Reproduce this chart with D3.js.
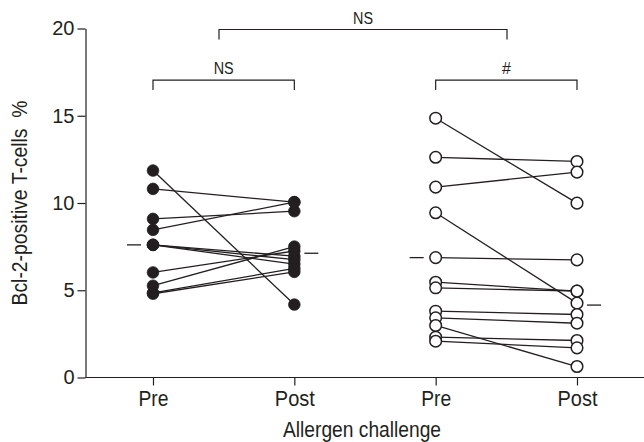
<!DOCTYPE html>
<html><head><meta charset="utf-8">
<script src="https://cdn.jsdelivr.net/npm/d3@7"></script>
<style>
html,body{margin:0;padding:0;background:#fff;}
svg{display:block;font-family:"Liberation Sans",Arial,Helvetica,sans-serif;}
</style></head>
<body><svg id="c" width="644" height="442"></svg>
<script>
// ---- data ----
const categories = ["Pre A", "Post A", "Pre B", "Post B"];
const categoryLabels = ["Pre", "Post", "Pre", "Post"];
const yTicks = [0, 5, 10, 15, 20];
// group 1 (filled circles): paired pre/post values
const group1Pre  = [11.86, 10.81, 9.09, 8.46, 7.60, 7.60, 7.60, 6.02, 5.26, 4.85, 4.80];
const group1Post = [4.18, 10.05, 9.53, 10.05, 6.95, 6.75, 6.50, 7.25, 7.50, 6.25, 6.05];
// group 2 (open circles)
const group2Pre  = [14.86, 12.62, 10.91, 9.44, 6.87, 5.46, 5.14, 3.80, 3.42, 2.98, 2.31, 2.08];
const group2Post = [9.99, 12.38, 11.77, 4.26, 6.74, 4.95, 4.95, 3.61, 3.11, 0.63, 2.12, 1.70];
// group central values (dashes)
const group1Center = [7.60, 7.12];
const group2Center = [6.87, 4.15];
// significance annotations
const brackets = [
  {from: "Pre A", to: "Post B", level: 20, label: "NS"},
  {from: "Pre A", to: "Post A", level: 17.1, label: "NS"},
  {from: "Pre B", to: "Post B", level: 17.1, label: "#"}
];
const yTitle = "Bcl-2-positive T-cells  %";
const xTitle = "Allergen challenge";

// ---- chart ----
const svg = d3.select("#c");
const x = d3.scalePoint().domain(categories).range([153, 577]);
const y = d3.scaleLinear().domain([0, 20]).range([377.5, 28.5]);
const ink = "#231f20";

// axes
const yAxis = svg.append("g").attr("transform", "translate(85.5,0)")
  .call(d3.axisLeft(y).tickValues(yTicks).tickSize(8).tickPadding(3).tickSizeOuter(0));
yAxis.select(".domain").attr("stroke", ink).attr("stroke-width", 1.2);
yAxis.selectAll(".tick line").attr("stroke", ink).attr("stroke-width", 1.2);
yAxis.selectAll(".tick text").attr("font-size", 20).attr("fill", ink)
  .attr("font-family", "'Liberation Sans',Arial,sans-serif");

const xAxis = svg.append("g").attr("transform", `translate(0,${y(0)})`)
  .call(d3.axisBottom(x).tickSize(8).tickPadding(5).tickSizeOuter(0)
    .tickFormat((d, i) => categoryLabels[i]));
xAxis.select(".domain").attr("d", `M85.5,0H644`).attr("stroke", ink).attr("stroke-width", 1.2);
xAxis.selectAll(".tick line").attr("stroke", ink).attr("stroke-width", 1.2);
xAxis.selectAll(".tick text").attr("font-size", 22).attr("fill", ink)
  .attr("textLength", (d, i) => categoryLabels[i] === "Pre" ? 30 : 40)
  .attr("lengthAdjust", "spacingAndGlyphs");

svg.append("text").attr("x", 362).attr("y", 437).attr("text-anchor", "middle")
  .attr("font-size", 22).attr("fill", ink)
  .attr("textLength", 158).attr("lengthAdjust", "spacingAndGlyphs").text(xTitle);
svg.append("text").attr("transform", "translate(27,203) rotate(-90)")
  .attr("text-anchor", "middle").attr("font-size", 22).attr("fill", ink)
  .attr("textLength", 205).attr("lengthAdjust", "spacingAndGlyphs")
  .style("white-space", "pre").text(yTitle);

// pairs
function drawGroup(pre, post, preCat, postCat, filled) {
  const pairs = pre.map((v, i) => ({pre: v, post: post[i]}));
  const g = svg.append("g");
  g.selectAll("line.pair").data(pairs).join("line")
    .attr("x1", x(preCat)).attr("x2", x(postCat))
    .attr("y1", d => y(d.pre)).attr("y2", d => y(d.post))
    .attr("stroke", ink).attr("stroke-width", 1.3);
  const pts = pairs.flatMap(d => [{c: preCat, v: d.pre}, {c: postCat, v: d.post}]);
  g.selectAll("circle").data(pts).join("circle")
    .attr("cx", d => x(d.c)).attr("cy", d => y(d.v)).attr("r", 5.8)
    .attr("fill", filled ? ink : "#fff")
    .attr("stroke", ink).attr("stroke-width", filled ? 0.8 : 1.5);
}
drawGroup(group1Pre, group1Post, "Pre A", "Post A", true);
drawGroup(group2Pre, group2Post, "Pre B", "Post B", false);

// central dashes
function dash(cat, v, side) {
  const cx = x(cat);
  const x1 = side < 0 ? cx - 26 : cx + 10;
  svg.append("line").attr("x1", x1).attr("x2", x1 + 14)
    .attr("y1", y(v)).attr("y2", y(v)).attr("stroke", ink).attr("stroke-width", 1.3);
}
dash("Pre A", group1Center[0], -1);
dash("Post A", group1Center[1], 1);
dash("Pre B", group2Center[0], -1);
dash("Post B", group2Center[1], 1);

// brackets
brackets.forEach((b, i) => {
  const x1 = x(b.from), x2 = x(b.to), yy = y(b.level) + 1;
  const xa = i === 0 ? 219 : x1, xb = i === 0 ? 507 : x2;
  svg.append("path").attr("d", `M${xa},${yy + 10}V${yy}H${xb}V${yy + 10}`)
    .attr("fill", "none").attr("stroke", ink).attr("stroke-width", 1.2);
  svg.append("text").attr("x", (xa + xb) / 2).attr("y", yy - 6)
    .attr("text-anchor", "middle").attr("font-size", 16).attr("fill", ink)
    .attr("textLength", b.label === "NS" ? 20 : null).attr("lengthAdjust", "spacingAndGlyphs")
    .text(b.label);
});
</script></body></html>
